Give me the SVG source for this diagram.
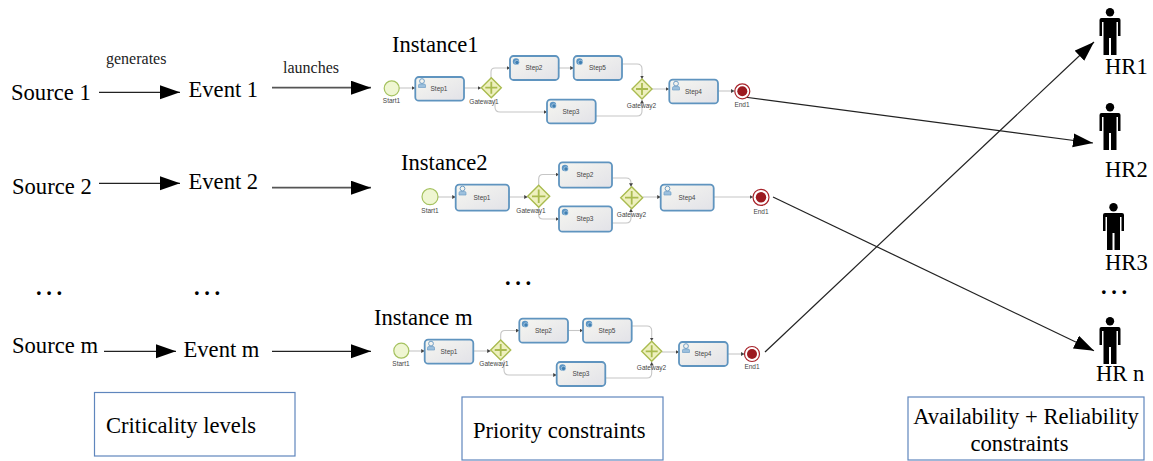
<svg xmlns="http://www.w3.org/2000/svg" xmlns:xlink="http://www.w3.org/1999/xlink" width="1153" height="461" viewBox="0 0 1153 461">
<style>
text{font-family:"Liberation Serif","Times New Roman",serif;fill:#000}
.l{font-size:22.600px}
.s{font-size:16px;fill:#222}
.b{font-size:22.600px}
.d{font-size:22.600px;letter-spacing:4.600px;font-weight:bold}
.t{font-family:"Liberation Sans",Arial,sans-serif;font-size:6.500px;fill:#444;text-anchor:middle}
.task{fill:url(#tg);stroke:#5f94bf;stroke-width:1.800}
.start{fill:#eff6d2;stroke:#a5c25f;stroke-width:1.200}
.gw{fill:#eef0bf;stroke:#a9bb4f;stroke-width:1.400}
.gp{fill:none;stroke:#a9bb4f;stroke-width:1.800}
.end1{fill:#fff;stroke:#a8242b;stroke-width:1.200}
.end2{fill:#9c1a20}
.flow{fill:none;stroke:#c6c6c6;stroke-width:1.100;marker-end:url(#fa)}
.conn{fill:none;stroke:#222;stroke-width:1.200;marker-end:url(#ah)}
.conn2{fill:none;stroke:#555;stroke-width:1.800;marker-end:url(#ah)}
.box{fill:#fff;stroke:#5f86bd;stroke-width:1.200}
</style>
<defs>
<linearGradient id="tg" x1="0" y1="0" x2="1" y2="1"><stop offset="0" stop-color="#f6f6f0"/><stop offset="1" stop-color="#e2e2e8"/></linearGradient>
<marker id="ah" markerUnits="userSpaceOnUse" markerWidth="22" markerHeight="16" refX="20" refY="7" orient="auto"><path d="M0 0L20 7L0 14Z" fill="#000"/></marker>
<marker id="fa" markerUnits="userSpaceOnUse" markerWidth="5" markerHeight="5" refX="3.500" refY="2" orient="auto"><path d="M0 0L3.500 2L0 4Z" fill="#444"/></marker>
<symbol id="person" overflow="visible"><circle cx="10.500" cy="4.200" r="4.200" fill="#000"/><path d="M2 10H19Q21 10 21 12V28H18.500V14H17V47H11.500V30H9.500V47H4V14H2.500V28H0V12Q0 10 2 10Z" fill="#000"/></symbol>
<symbol id="user" overflow="visible"><circle cx="4" cy="2.600" r="2.400" fill="none" stroke="#6f9ec6" stroke-width="1"/><path d="M0.500 9V6.800Q0.500 5.500 2 5.500H6Q7.500 5.500 7.500 6.800V9Z" fill="#9cc0dd" stroke="#6f9ec6" stroke-width=".7"/></symbol>
<symbol id="svc" overflow="visible"><circle cx="4" cy="4" r="3.200" fill="#5b95c4"/><circle cx="5" cy="5" r="2.200" fill="#3f7fb2" stroke="#cfe0ee" stroke-width=".6"/></symbol>
</defs>
<g id="connectors">
<path class="conn" d="M99 92.300H180"/>
<path class="conn2" d="M272 87.700H371"/>
<path class="conn" d="M99 183.300H180"/>
<path class="conn2" d="M272 187.700H371"/>
<path class="conn" d="M104 351.300H176"/>
<path class="conn" d="M272 351.300H371"/>
<path class="conn" d="M744 97L1093 143"/>
<path class="conn" d="M773 197L1094 350.700"/>
<path class="conn" d="M765 352L1094 42"/>
</g>
<g id="source1"><text class="l" x="11" y="100">Source 1</text></g>
<g id="source2"><text class="l" x="12" y="193.500">Source 2</text></g>
<g id="sourcem"><text class="l" x="12" y="353">Source m</text></g>
<g id="event1"><text class="l" x="188.500" y="97.300">Event 1</text></g>
<g id="event2"><text class="l" x="188.500" y="189">Event 2</text></g>
<g id="eventm"><text class="l" x="183.500" y="357.300">Event m</text></g>
<text class="s" x="106" y="64">generates</text>
<text class="s" x="283" y="73">launches</text>
<text class="d" x="36" y="295">...</text>
<text class="d" x="194" y="295">...</text>
<text class="d" x="505" y="284.500">...</text>
<text class="d" x="1101" y="294">...</text>

<g id="instance1">
<text class="l" x="392" y="52">Instance1</text>
<g>
<path class="flow" d="M399 88H415"/><path class="flow" d="M464 88H481"/>
<path class="flow" d="M491 78V72Q491 68 495 68H510"/><path class="flow" d="M558.700 68H573.700"/>
<path class="flow" d="M622 64H637Q642 64 642 69V79"/>
<path class="flow" d="M495 99V107Q495 112 500 112H547"/>
<path class="flow" d="M595.700 116H637Q642 116 642 111V100"/>
<path class="flow" d="M652 89H669"/><path class="flow" d="M718 91H734.500"/>
</g>
<circle class="start" cx="391.700" cy="88.300" r="7.500"/><text class="t" x="391.500" y="103">Start1</text>
<rect class="task" x="415.300" y="77" width="48.700" height="23.700" rx="3.500"/><use xlink:href="#user" x="418" y="78.500"/><text class="t" x="439" y="91">Step1</text>
<path class="gw" d="M491.300 77.700L501.300 87.700L491.300 97.700L481.300 87.700Z"/><path class="gp" d="M485.300 87.700H497.300M491.300 81.700V93.700"/><text class="t" x="484" y="104">Gateway1</text>
<rect class="task" x="510" y="56" width="48.700" height="24" rx="3.500"/><use xlink:href="#svc" x="512" y="57.500"/><text class="t" x="534" y="70">Step2</text>
<rect class="task" x="573.700" y="56" width="48.300" height="24" rx="3.500"/><use xlink:href="#svc" x="575.500" y="57.500"/><text class="t" x="597.500" y="70">Step5</text>
<rect class="task" x="547" y="99.700" width="48.700" height="23.700" rx="3.500"/><use xlink:href="#svc" x="549" y="101"/><text class="t" x="571" y="114">Step3</text>
<path class="gw" d="M642 79L652 89L642 99L632 89Z"/><path class="gp" d="M636 89H648M642 83V95"/><text class="t" x="641.500" y="108">Gateway2</text>
<rect class="task" x="669.300" y="79.700" width="48.700" height="23.700" rx="3.500"/><use xlink:href="#user" x="672" y="81"/><text class="t" x="693.500" y="93.500">Step4</text>
<circle class="end1" cx="742.300" cy="91.300" r="7.500"/><circle class="end2" cx="742.300" cy="91.300" r="5"/><text class="t" x="742" y="107">End1</text>
</g>

<g id="instance2">
<text class="l" x="401" y="170">Instance2</text>
<g>
<path class="flow" d="M438 197H455.700"/><path class="flow" d="M509 197H527.700"/>
<path class="flow" d="M538.700 185.300V179Q538.700 174.500 543 174.500H559"/>
<path class="flow" d="M538.700 207.300V215Q538.700 219 543 219H559"/>
<path class="flow" d="M612 178H626Q631 178 631 183V186.700"/>
<path class="flow" d="M612 223H626Q631 223 631 218V208.700"/>
<path class="flow" d="M642.700 197H660.700"/><path class="flow" d="M713.700 197H753"/>
</g>
<circle class="start" cx="430" cy="196.700" r="8"/><text class="t" x="430" y="213">Start1</text>
<rect class="task" x="455.700" y="184.700" width="53.300" height="26" rx="3.500"/><use xlink:href="#user" x="458.500" y="186"/><text class="t" x="482" y="200">Step1</text>
<path class="gw" d="M538.700 185.300L549.700 196.300L538.700 207.300L527.700 196.300Z"/><path class="gp" d="M532 196.300H545.400M538.700 189.600V203"/><text class="t" x="531" y="213">Gateway1</text>
<rect class="task" x="559" y="162.300" width="53" height="25.400" rx="3.500"/><use xlink:href="#svc" x="561" y="164"/><text class="t" x="585" y="177">Step2</text>
<rect class="task" x="559" y="206.300" width="53" height="25.400" rx="3.500"/><use xlink:href="#svc" x="561" y="208"/><text class="t" x="585" y="221">Step3</text>
<path class="gw" d="M631.700 186.700L642.700 197.700L631.700 208.700L620.700 197.700Z"/><path class="gp" d="M625 197.700H638.400M631.700 191V204.400"/><text class="t" x="631.500" y="217">Gateway2</text>
<rect class="task" x="660.700" y="184.700" width="53" height="26" rx="3.500"/><use xlink:href="#user" x="663.500" y="186"/><text class="t" x="687" y="200">Step4</text>
<circle class="end1" cx="761" cy="197.300" r="8"/><circle class="end2" cx="761" cy="197.300" r="5.200"/><text class="t" x="761" y="214">End1</text>
</g>

<g id="instancem">
<text class="l" x="374" y="325">Instance m</text>
<g>
<path class="flow" d="M409 351H424.700"/><path class="flow" d="M473.300 351H490.700"/>
<path class="flow" d="M500.700 340V335Q500.700 330.500 505 330.500H519.300"/>
<path class="flow" d="M568 330.500H583"/>
<path class="flow" d="M631.700 326H647Q651.700 326 651.700 331V341"/>
<path class="flow" d="M504 360V370Q504 375 509 375H556.700"/>
<path class="flow" d="M605.300 378H647Q651.700 378 651.700 373V362"/>
<path class="flow" d="M661.700 352H679"/><path class="flow" d="M727.700 354H744.500"/>
</g>
<circle class="start" cx="401.300" cy="350.700" r="7.500"/><text class="t" x="401" y="366">Start1</text>
<rect class="task" x="424.700" y="339.700" width="48.600" height="24" rx="3.500"/><use xlink:href="#user" x="427" y="341"/><text class="t" x="449" y="354">Step1</text>
<path class="gw" d="M500.700 340L510.700 350L500.700 360L490.700 350Z"/><path class="gp" d="M494.700 350H506.700M500.700 344V356"/><text class="t" x="494" y="366">Gateway1</text>
<rect class="task" x="519.300" y="318.700" width="48.700" height="24" rx="3.500"/><use xlink:href="#svc" x="521" y="320"/><text class="t" x="543.500" y="333">Step2</text>
<rect class="task" x="583" y="318.700" width="48.700" height="24" rx="3.500"/><use xlink:href="#svc" x="585" y="320"/><text class="t" x="607" y="333">Step5</text>
<rect class="task" x="556.700" y="362" width="48.600" height="24" rx="3.500"/><use xlink:href="#svc" x="558.500" y="363.500"/><text class="t" x="581" y="376">Step3</text>
<path class="gw" d="M651.700 341.300L661.700 351.300L651.700 361.300L641.700 351.300Z"/><path class="gp" d="M645.700 351.300H657.700M651.700 345.300V357.300"/><text class="t" x="651.500" y="370">Gateway2</text>
<rect class="task" x="679" y="342" width="48.700" height="24" rx="3.500"/><use xlink:href="#user" x="682" y="343.500"/><text class="t" x="703" y="356">Step4</text>
<circle class="end1" cx="752" cy="354" r="7.500"/><circle class="end2" cx="752" cy="354" r="5"/><text class="t" x="752" y="369">End1</text>
</g>

<g id="hr1"><use xlink:href="#person" x="1099.500" y="8"/><text class="l" x="1105" y="74">HR1</text></g>
<g id="hr2"><use xlink:href="#person" x="1099.500" y="103"/><text class="l" x="1105" y="177">HR2</text></g>
<g id="hr3"><use xlink:href="#person" x="1103" y="203"/><text class="l" x="1105" y="270">HR3</text></g>
<g id="hrn"><use xlink:href="#person" x="1099.500" y="317"/><text class="l" x="1096" y="381">HR n</text></g>

<g id="criticality"><rect class="box" x="94.500" y="392.500" width="200.500" height="63.500"/><text class="b" x="106" y="433">Criticality levels</text></g>
<g id="priority"><rect class="box" x="462" y="397" width="201" height="63"/><text class="b" x="473" y="438">Priority constraints</text></g>
<g id="availability"><rect class="box" x="908" y="397" width="236" height="63"/><text class="b" x="1026" y="424" text-anchor="middle">Availability + Reliability</text><text class="b" x="1019.500" y="451" text-anchor="middle">constraints</text></g>
</svg>
